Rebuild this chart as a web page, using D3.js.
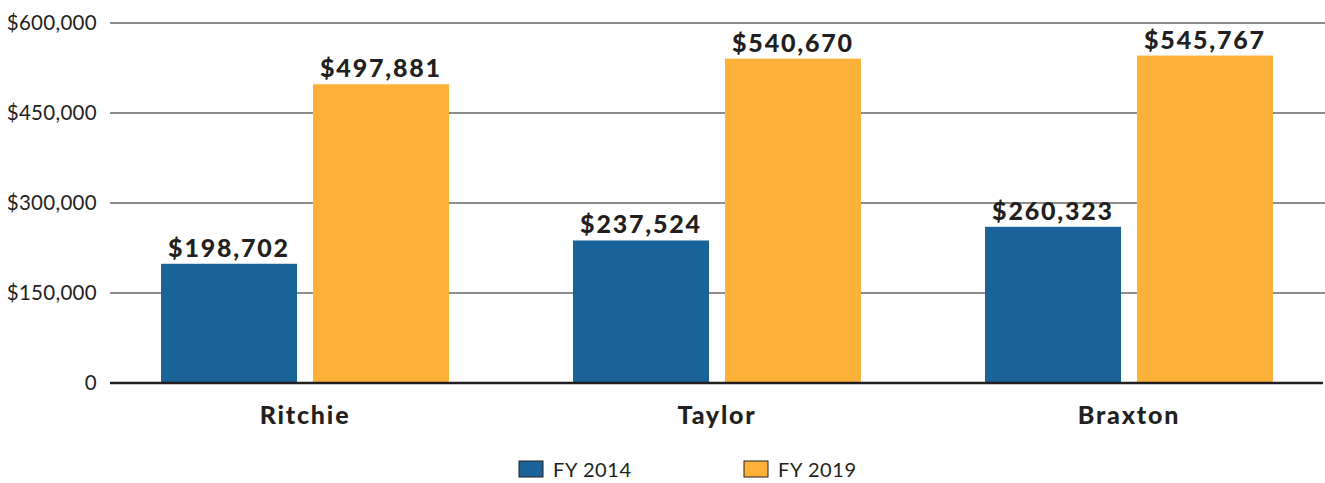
<!DOCTYPE html>
<html><head><meta charset="utf-8">
<script src="https://cdn.jsdelivr.net/npm/d3@7/dist/d3.min.js"></script>
<style>body{margin:0;background:#fff}svg{display:block}</style>
</head><body>
<svg id="c" width="1325" height="483"></svg>
<script>
const categories = ["Ritchie", "Taylor", "Braxton"];
const seriesNames = ["FY 2014", "FY 2019"];
const fy2014 = [198702, 237524, 260323];
const fy2019 = [497881, 540670, 545767];
const yTicks = [0, 150000, 300000, 450000, 600000];
const colors = ["#1a6399", "#fdb138"];

const svg = d3.select("#c");
const font = "Lato, 'Open Sans', sans-serif";
const textColor = "#231f20";

const y = d3.scaleLinear().domain([0, 600000]).range([383, 23]);
const x0 = d3.scaleBand().domain(categories).range([99, 1335]).paddingInner(0.301).paddingOuter(0.1505);
const x1 = d3.scaleBand().domain(seriesNames).range([0, x0.bandwidth()]).paddingInner(0.105).paddingOuter(0);

const data = categories.map((c, i) => ({cat: c, vals: [fy2014[i], fy2019[i]]}));

// y tick labels
const axisY = d3.axisLeft(y).tickValues(yTicks).tickSize(0).tickPadding(0)
  .tickFormat(d => d === 0 ? "0" : "$" + d3.format(",")(d));
const gy = svg.append("g").attr("transform", "translate(97,0)").call(axisY);
gy.select(".domain").remove();
gy.selectAll("text").attr("font-family", font).attr("font-size", 20.5).attr("fill", textColor)
  .attr("x", 0).attr("dy", "0.3em").attr("letter-spacing", "0.3px");

// gridlines
svg.append("g").selectAll("line").data(yTicks.filter(d => d > 0)).join("line")
  .attr("x1", 110).attr("x2", 1325).attr("y1", d => y(d)).attr("y2", d => y(d))
  .attr("stroke", "#8c8c8c").attr("stroke-width", 2);

// bars
const groups = svg.append("g").selectAll("g").data(data).join("g")
  .attr("transform", d => `translate(${x0(d.cat)},0)`);
groups.selectAll("rect").data(d => d.vals.map((v, i) => ({s: seriesNames[i], v, i}))).join("rect")
  .attr("x", d => x1(d.s)).attr("width", x1.bandwidth())
  .attr("y", d => y(d.v)).attr("height", d => y(0) - y(d.v))
  .attr("fill", d => colors[d.i]);
groups.selectAll("text").data(d => d.vals.map((v, i) => ({s: seriesNames[i], v, i}))).join("text")
  .attr("x", d => x1(d.s) + x1.bandwidth() / 2).attr("y", d => y(d.v) - 7)
  .attr("text-anchor", "middle").attr("font-family", font).attr("font-weight", 900)
  .attr("font-size", 25).attr("letter-spacing", "1.8px").attr("fill", textColor)
  .text(d => "$" + d3.format(",")(d.v));

// baseline
svg.append("line").attr("x1", 110).attr("x2", 1323).attr("y1", y(0)).attr("y2", y(0))
  .attr("stroke", textColor).attr("stroke-width", 2.5);

// category axis
const axisX = d3.axisBottom(x0).tickSize(0).tickPadding(0);
const gx = svg.append("g").attr("transform", "translate(0,424)").call(axisX);
gx.select(".domain").remove();
gx.selectAll("text").attr("font-family", font).attr("font-weight", 900).attr("font-size", 25)
  .attr("fill", textColor).attr("dy", 0).attr("letter-spacing", "1.8px");

// legend
const legendX = [519, 744];
const lg = svg.append("g").selectAll("g").data(seriesNames).join("g")
  .attr("transform", (d, i) => `translate(${legendX[i]},461)`);
lg.append("rect").attr("width", 24).attr("height", 16).attr("fill", (d, i) => colors[i])
  .attr("stroke", textColor).attr("stroke-width", 1);
lg.append("text").attr("x", 34).attr("y", 16).attr("font-family", font).attr("font-size", 20)
  .attr("fill", textColor).attr("letter-spacing", "0.6px").text(d => d);
</script>
</body></html>
